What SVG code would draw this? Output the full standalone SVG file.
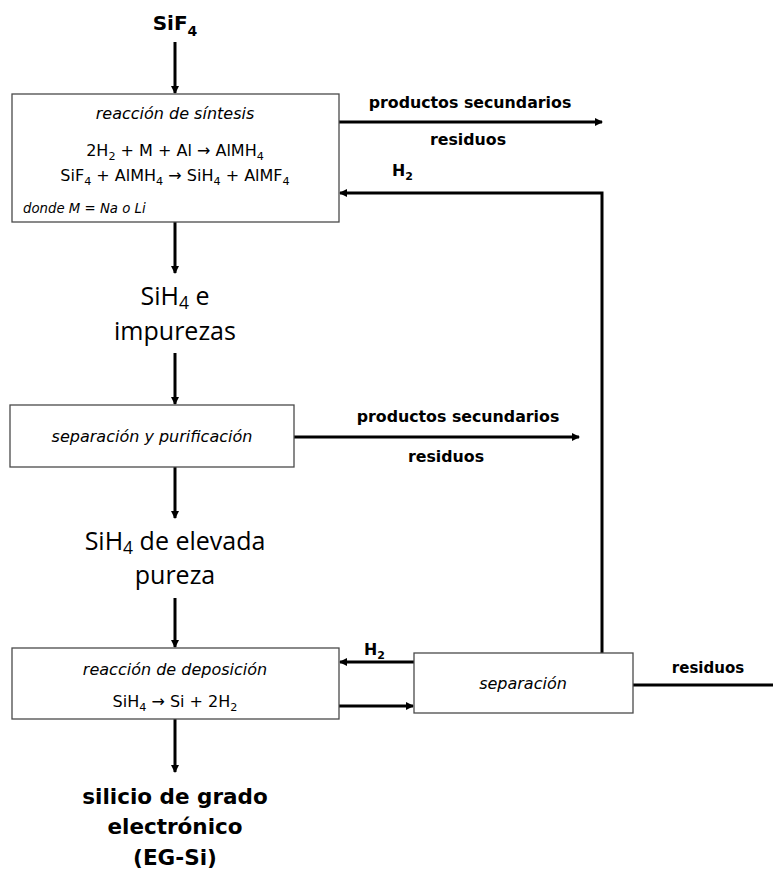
<svg xmlns="http://www.w3.org/2000/svg" width="773" height="872" viewBox="0 0 773 872">
  <style>
    .box { fill: #ffffff; stroke: #4a4a4a; stroke-width: 1.3; }
    .flow { fill: none; stroke: #000000; stroke-width: 3; }
    .t { font-family: "DejaVu Sans", "Open Sans", sans-serif; fill: #000000; }
    .lbl { font-size: 15.8px; font-weight: bold; }
    .big { font-family: "Open Sans", "DejaVu Sans", sans-serif; font-size: 25px; }
    .it { font-style: italic; font-size: 16px; }
    .eq { font-size: 16px; }
    .sub { font-size: 0.7em; }
  </style>
  <defs>
    <marker id="arrow" markerWidth="8" markerHeight="8" refX="7" refY="4" orient="auto" markerUnits="userSpaceOnUse" viewBox="0 0 8 8">
      <path d="M0,0 L8,4 L0,8 z" fill="#000000"/>
    </marker>
  </defs>

  <rect width="773" height="872" fill="#ffffff"/>

  <!-- connectors -->
  <g id="connectors">
    <line class="flow" x1="175" y1="42" x2="175" y2="93" marker-end="url(#arrow)"/>
    <line class="flow" x1="339" y1="122" x2="602" y2="122" marker-end="url(#arrow)"/>
    <polyline class="flow" points="602,653 602,193 340,193" marker-end="url(#arrow)"/>
    <line class="flow" x1="175" y1="222" x2="175" y2="273" marker-end="url(#arrow)"/>
    <line class="flow" x1="175" y1="353" x2="175" y2="404" marker-end="url(#arrow)"/>
    <line class="flow" x1="294" y1="437" x2="579" y2="437" marker-end="url(#arrow)"/>
    <line class="flow" x1="175" y1="467" x2="175" y2="518" marker-end="url(#arrow)"/>
    <line class="flow" x1="175" y1="598" x2="175" y2="647" marker-end="url(#arrow)"/>
    <line class="flow" x1="414" y1="662" x2="340" y2="662" marker-end="url(#arrow)"/>
    <line class="flow" x1="339" y1="706" x2="413" y2="706" marker-end="url(#arrow)"/>
    <line class="flow" x1="633" y1="685" x2="773" y2="685"/>
    <line class="flow" x1="175" y1="719" x2="175" y2="772" marker-end="url(#arrow)"/>
  </g>

  <!-- connector labels -->
  <g id="labels">
    <text class="t" x="175" y="30" text-anchor="middle" font-size="20" font-weight="bold">SiF<tspan class="sub" dy="6">4</tspan></text>
    <text class="t lbl" x="470" y="108" text-anchor="middle">productos secundarios</text>
    <text class="t lbl" x="468" y="145" text-anchor="middle">residuos</text>
    <text class="t lbl" x="392" y="176">H<tspan class="sub" dy="4">2</tspan></text>
    <text class="t big" x="175" y="305" text-anchor="middle">SiH<tspan class="sub" dy="4">4</tspan><tspan dy="-4"> e</tspan></text>
    <text class="t big" x="175" y="340" text-anchor="middle">impurezas</text>
    <text class="t lbl" x="458" y="422" text-anchor="middle">productos secundarios</text>
    <text class="t lbl" x="446" y="462" text-anchor="middle">residuos</text>
    <text class="t big" x="175" y="550" text-anchor="middle">SiH<tspan class="sub" dy="4">4</tspan><tspan dy="-4"> de elevada</tspan></text>
    <text class="t big" x="175" y="584" text-anchor="middle">pureza</text>
    <text class="t lbl" x="364" y="655">H<tspan class="sub" dy="4">2</tspan></text>
    <text class="t" x="708" y="673" text-anchor="middle" font-size="15" font-weight="bold">residuos</text>
    <text class="t" x="175" y="804" text-anchor="middle" font-size="21.5" font-weight="bold">silicio de grado</text>
    <text class="t" x="175" y="834" text-anchor="middle" font-size="21.5" font-weight="bold">electrónico</text>
    <text class="t" x="175" y="865" text-anchor="middle" font-size="21.5" font-weight="bold">(EG-Si)</text>
  </g>

  <!-- reaction block -->
  <g id="sintesis">
    <rect class="box" x="12" y="94" width="327" height="128"/>
    <text class="t it" x="175" y="119" text-anchor="middle">reacción de síntesis</text>
    <text class="t eq" x="175" y="156" text-anchor="middle">2H<tspan class="sub" dy="4">2</tspan><tspan dy="-4"> + M + Al → AlMH</tspan><tspan class="sub" dy="4">4</tspan></text>
    <text class="t eq" x="175" y="181" text-anchor="middle">SiF<tspan class="sub" dy="4">4</tspan><tspan dy="-4"> + AlMH</tspan><tspan class="sub" dy="4">4</tspan><tspan dy="-4"> → SiH</tspan><tspan class="sub" dy="4">4</tspan><tspan dy="-4"> + AlMF</tspan><tspan class="sub" dy="4">4</tspan></text>
    <text class="t" x="23" y="213" font-size="13.3" font-style="italic">donde M = Na o Li</text>
  </g>

  <g id="purificacion">
    <rect class="box" x="10" y="405" width="284" height="62"/>
    <text class="t it" x="152" y="442" text-anchor="middle">separación y purificación</text>
  </g>

  <g id="deposicion">
    <rect class="box" x="12" y="648" width="327" height="71"/>
    <text class="t it" x="175" y="675" text-anchor="middle">reacción de deposición</text>
    <text class="t eq" x="175" y="707" text-anchor="middle">SiH<tspan class="sub" dy="4">4</tspan><tspan dy="-4"> → Si + 2H</tspan><tspan class="sub" dy="4">2</tspan></text>
  </g>

  <g id="separacion">
    <rect class="box" x="414" y="653" width="219" height="60"/>
    <text class="t it" x="523" y="689" text-anchor="middle">separación</text>
  </g>
</svg>
